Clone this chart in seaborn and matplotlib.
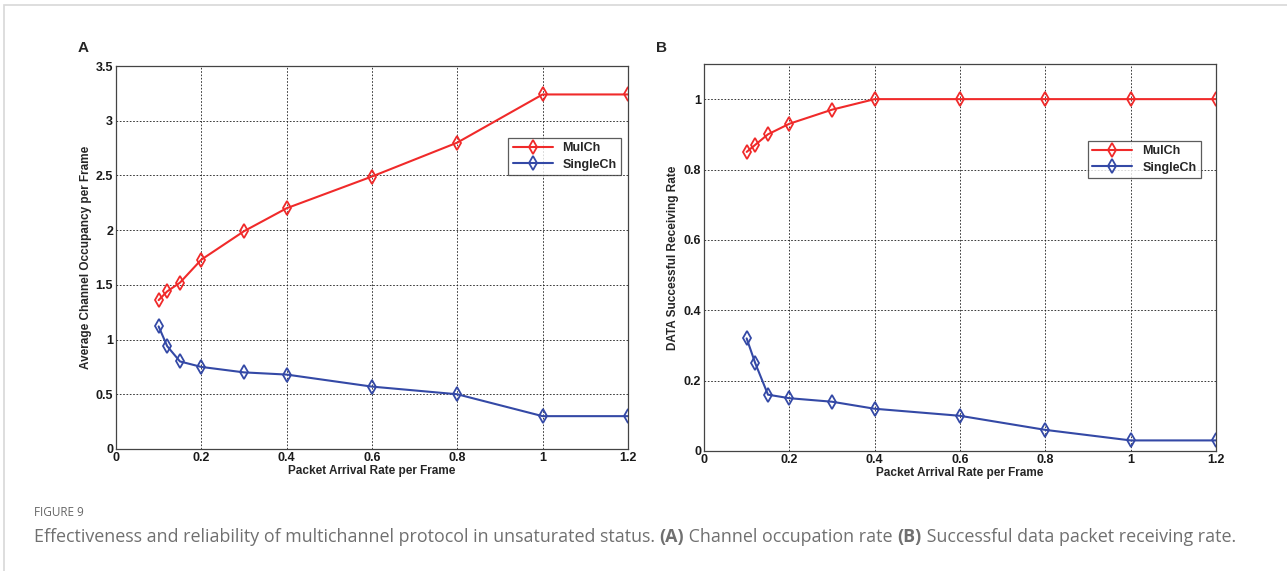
import numpy as np
import pandas as pd
import matplotlib
matplotlib.use('Agg')
import matplotlib.pyplot as plt
import seaborn as sns
from matplotlib.patches import Rectangle

# data
arrival_rate = [0.1, 0.12, 0.15, 0.2, 0.3, 0.4, 0.6, 0.8, 1.0, 1.2]
occ_mulch = [1.36, 1.44, 1.52, 1.73, 1.99, 2.20, 2.49, 2.80, 3.24, 3.24]
occ_single = [1.12, 0.94, 0.80, 0.75, 0.70, 0.68, 0.57, 0.50, 0.30, 0.30]
recv_mulch = [0.85, 0.87, 0.90, 0.93, 0.97, 1.0, 1.0, 1.0, 1.0, 1.0]
recv_single = [0.32, 0.25, 0.16, 0.15, 0.14, 0.12, 0.10, 0.06, 0.03, 0.03]
series_names = ['MulCh', 'SingleCh']
xticks = [0, 0.2, 0.4, 0.6, 0.8, 1, 1.2]
xtick_labels = ['0', '0.2', '0.4', '0.6', '0.8', '1', '1.2']
yticks_a = [0, 0.5, 1, 1.5, 2, 2.5, 3, 3.5]
ytick_labels_a = ['0', '0.5', '1', '1.5', '2', '2.5', '3', '3.5']
yticks_b = [0, 0.2, 0.4, 0.6, 0.8, 1]
ytick_labels_b = ['0', '0.2', '0.4', '0.6', '0.8', '1']

sns.set_theme(style='white')
plt.rcParams['font.family'] = ['Liberation Sans', 'DejaVu Sans']

colors = {'MulCh': '#f02a2a', 'SingleCh': '#3449a6'}


def make_frame(mul, single):
    return pd.DataFrame({
        'rate': arrival_rate * 2,
        'value': mul + single,
        'series': [series_names[0]] * len(mul) + [series_names[1]] * len(single),
    })


def draw_panel(ax, df, ylim, yticks, ylabels, ylabel, legend_loc):
    sns.lineplot(data=df, x='rate', y='value', hue='series', palette=colors,
                 marker='d', markersize=7.5, markerfacecolor='none',
                 markeredgewidth=1.3, linewidth=1.5, ax=ax, legend=False)
    for line, name in zip(ax.get_lines(), series_names):
        line.set_markeredgecolor(colors[name])
        line.set_label(name)
    ax.set_xlim(0, 1.2)
    ax.set_ylim(*ylim)
    ax.set_xticks(xticks)
    ax.set_xticklabels(xtick_labels, fontsize=9, fontweight='bold')
    ax.set_yticks(yticks)
    ax.set_yticklabels(ylabels, fontsize=9, fontweight='bold')
    ax.set_xlabel('Packet Arrival Rate per Frame', fontsize=8.5,
                  fontweight='bold', labelpad=1)
    ax.set_ylabel(ylabel, fontsize=8.5, fontweight='bold', labelpad=3)
    ax.grid(True, color='k', linestyle=(0, (2, 2)), linewidth=0.6)
    ax.tick_params(direction='in', length=3, pad=2, colors='k')
    for sp in ax.spines.values():
        sp.set_color('#444444')
        sp.set_linewidth(0.9)
    leg = ax.legend(loc='lower left', bbox_to_anchor=legend_loc, fontsize=9,
                    frameon=True, fancybox=False, edgecolor='#333333',
                    handlelength=3.2, borderpad=0.35, labelspacing=0.35,
                    borderaxespad=0)
    leg.get_frame().set_linewidth(0.9)
    for t in leg.get_texts():
        t.set_fontweight('bold')


fig = plt.figure(figsize=(12.87, 5.71), dpi=100)
ax_a = fig.add_axes([0.0901, 0.2137, 0.3978, 0.6707])
ax_b = fig.add_axes([0.5470, 0.2102, 0.3978, 0.6778])

draw_panel(ax_a, make_frame(occ_mulch, occ_single), (0, 3.5), yticks_a,
           ytick_labels_a, 'Average Channel Occupancy per Frame',
           (0.766, 0.715))
draw_panel(ax_b, make_frame(recv_mulch, recv_single), (0, 1.1), yticks_b,
           ytick_labels_b, 'DATA Successful Receiving Rate', (0.75, 0.705))

fig.text(78 / 1287, 1 - 48 / 571, 'A', fontsize=11, fontweight='bold', va='center')
fig.text(656 / 1287, 1 - 48 / 571, 'B', fontsize=11, fontweight='bold', va='center')

cap_font = ['Open Sans', 'DejaVu Sans']
fig.text(34 / 1287, 1 - 513 / 571, 'FIGURE 9', fontsize=8.5, color='#666666',
         va='center', family=cap_font)

# caption built from pieces so (A) and (B) can be bold
pieces = [
    ('Effectiveness and reliability of multichannel protocol in unsaturated status. ', 'normal'),
    ('(A)', 'bold'),
    (' Channel occupation rate ', 'normal'),
    ('(B)', 'bold'),
    (' Successful data packet receiving rate.', 'normal'),
]
renderer = fig.canvas.get_renderer()
x_px = 34
for txt, w in pieces:
    t = fig.text(x_px / 1287, 1 - 537 / 571, txt, fontsize=12.9, color='#707070',
                 va='center', fontweight=w, family=cap_font)
    bb = t.get_window_extent(renderer=renderer)
    x_px += bb.width

# border lines of the figure frame
fig.add_artist(Rectangle((4 / 1287, -0.1), 1.2, 1 - 5 / 571 + 0.1,
                         transform=fig.transFigure, fill=False,
                         edgecolor='#d8d8d8', linewidth=1.2))

fig.savefig('out.png', dpi=100)
